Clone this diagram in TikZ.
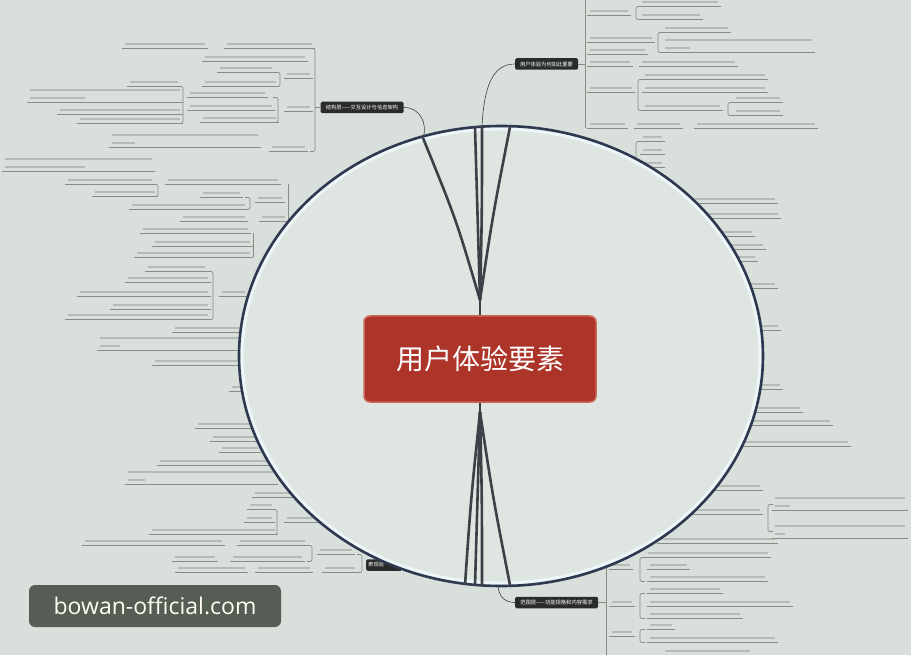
\documentclass[tikz,border=0pt]{standalone}
\usepackage{fontspec}
\newfontfamily\cjk{Noto Sans CJK SC}
\newfontfamily\webfont{Open Sans}
\usetikzlibrary{calc}
\definecolor{paper}{HTML}{D9E0DB}
\definecolor{inside}{HTML}{DFE5E1}
\definecolor{leafgray}{HTML}{868C86}
\definecolor{blurgray}{HTML}{B6BBB7}
\definecolor{spokegray}{HTML}{3C4047}
\definecolor{ringblue}{HTML}{2E3850}
\definecolor{branchdark}{HTML}{2A2B2B}
\definecolor{corered}{HTML}{AD3428}
\definecolor{coreedge}{HTML}{C9685A}
\definecolor{wmgreen}{HTML}{555D55}
\tikzset{
  leafline/.style={draw=leafgray, line width=0.7pt},
  leafblur/.style={fill=blurgray},
  spoke/.style={draw=spokegray, line width=2.6pt},
  thinlink/.style={draw=spokegray, line width=0.6pt},
  branch/.style={fill=branchdark, text=white, rounded corners=1.5pt, inner sep=2pt,
    minimum height=11.5pt, font=\cjk\fontsize{5.3}{6}\selectfont},
  core/.style={fill=corered, draw=coreedge, line width=1.5pt, rounded corners=6pt,
    minimum width=232pt, minimum height=86pt, text=white, font=\cjk\fontsize{28}{30}\selectfont},
  wmbox/.style={fill=wmgreen, rounded corners=6pt, minimum width=252pt, minimum height=42pt,
    text=white!95!yellow, font=\webfont\fontsize{23}{26}\selectfont}
}
\newcommand\leaf[3]{% x1, x2, y
  \fill [leafblur] (#1,#3-1.2) rectangle (#2,#3+1.2);
  \draw [leafline] (#1-3,#3+4.5) -- (#2+3,#3+4.5);
}
\newcommand\leaftwo[4]{% x1, x2, y, end of second line
  \fill [leafblur] (#1,#3-1.2) rectangle (#2,#3+1.2);
  \fill [leafblur] (#1,#3+6.8) rectangle (#4,#3+9.2);
  \draw [leafline] (#1-3,#3+12.5) -- (#2+3,#3+12.5);
}
\newcommand\bracketr[3]{% x, first child, last child
  \draw [leafline, rounded corners=2pt] (#1+5,#2+4.5) -- (#1,#2+4.5) -- (#1,#3+4.5) -- (#1+5,#3+4.5);
}
\newcommand\bracketl[3]{% x, first child, last child
  \draw [leafline, rounded corners=2pt] (#1-5,#2+4.5) -- (#1,#2+4.5) -- (#1,#3+4.5) -- (#1-5,#3+4.5);
}

\begin{document}
\begin{tikzpicture}[x=1pt,y=-1pt]
\fill [paper] (0,0) rectangle (911,655);
\useasboundingbox (0,0) rectangle (911,655);

% top right group
\draw [leafline] (585,0) -- (585,128.5);
\foreach \a/\b/\c in {590/628/11, 642/718/2, 642/700/15, 590/652/38, 665/728/28, 590/645/50,
  590/630/62, 642/735/62, 590/632/88, 645/765/75, 645/765/88, 645/720/106, 736/780/98,
  736/780/111, 590/625/124, 637/680/124, 697/815/124}
  {\leaf{\a}{\b}{\c}}
\leaftwo{665}{812}{40}{690}
\foreach \x/\p/\q in {636/2/15, 658/28/48, 638/75/106, 728/98/111}
  {\bracketr{\x}{\p}{\q}}

% top left group
\draw [leafline, rounded corners=2pt] (310,48.5) -- (315,48.5) -- (315,151.5) -- (310,151.5);
\foreach \a/\b/\c in {227/312/44, 125/205/44, 205/305/57, 287/310/74, 220/272/68, 205/276/82,
  287/310/107, 190/265/93, 190/272/106, 203/276/118, 130/178/82, 60/180/110, 80/180/119,
  272/305/147}
  {\leaf{\a}{\b}{\c}}
\leaftwo{30}{180}{90}{85}
\leaftwo{112}{258}{135}{135}
\foreach \x/\p/\q in {280/68/82, 278/93/118, 183/82/119}
  {\bracketl{\x}{\p}{\q}}

% left side
\leaftwo{5}{152}{159}{85}
\leaftwo{100}{240}{338}{120}
\leaftwo{128}{275}{472}{145}
\foreach \a/\b/\c in {68/152/180, 95/155/192, 168/278/180, 258/282/198, 203/240/193,
  132/245/205, 262/285/217, 183/245/217, 143/248/229, 155/250/242, 137/250/253,
  222/245/292, 148/205/267, 128/208/278, 80/208/292, 113/208/305, 68/208/315,
  175/240/328, 155/240/361, 232/242/387, 198/252/424, 213/255/437, 222/258/448,
  160/272/461, 255/290/493, 287/315/518, 250/272/505, 247/272/518, 152/275/530,
  320/352/550, 85/222/541, 240/305/541, 175/215/557, 233/302/557, 325/355/568,
  178/245/568, 258/310/568}
  {\leaf{\a}{\b}{\c}}
\foreach \x/\p/\q in {158/180/192, 250/193/205, 213/267/315, 277/505/530, 312/541/557,
  362/550/568}
  {\bracketl{\x}{\p}{\q}}
\draw [leafline] (288,184.5) -- (288,221.5);
\draw [leafline] (253,233.5) -- (253,257.5);

% right side
\foreach \a/\b/\c in {643/662/137, 643/662/150, 643/662/163, 695/775/199, 705/778/214,
  722/752/232, 728/763/245, 735/755/257, 745/775/284, 760/778/326, 758/780/385,
  758/800/408, 753/830/421, 740/848/442, 700/760/486, 690/760/510, 660/775/539,
  612/630/565, 648/768/553, 650/687/565, 650/765/577, 612/632/602, 650/720/589,
  650/790/602, 650/740/614, 612/632/632, 650/672/625, 650/775/638, 665/750/651}
  {\leaf{\a}{\b}{\c}}
\leaftwo{775}{905}{498}{790}
\leaftwo{775}{905}{526}{785}
\foreach \x/\p/\q in {636/137/163, 768/500/527, 640/553/577, 640/589/614, 640/625/638}
  {\bracketr{\x}{\p}{\q}}
\draw [leafline] (606,540) -- (606,655);

% branch boxes
\node [branch, minimum width=63pt] (sT) at (546.5,64) {用户体验为何如此重要};
\node [branch, minimum width=83pt] (sL) at (362,107.5) {结构层——交互设计与信息架构};
\node [branch, minimum width=83pt] (sR) at (556.5,602.5) {范围层——功能规格和内容需求};
\node [branch, anchor=west, text width=32pt, align=left] (sB) at (366,565) {表现层};
\draw [leafline] (sT.east) -- (585,64);
\draw [leafline] (sL.west) -- (315,107.5);
\draw [leafline] (sR.east) -- (606,602.5);

% the ring
\coordinate (O) at (501,356);
\fill [inside] (O) ellipse [x radius=262, y radius=230];
\draw [white!70!cyan!20!white, line width=3pt, opacity=0.8] (O) ellipse [x radius=259, y radius=227];
\draw [ringblue, line width=2.6pt] (O) ellipse [x radius=262, y radius=230];

% spokes
\coordinate (hubT) at (480,300);
\coordinate (hubB) at (480,412);
\coordinate (t1) at (423,138);
\coordinate (t2) at (475,127);
\coordinate (t3) at (482,126);
\coordinate (t4) at (510,127);
\coordinate (b1) at (465,585);
\coordinate (b2) at (475,586);
\coordinate (b3) at (482,586);
\coordinate (b4) at (510,585);
\coordinate (b5) at (498,587);
\draw [spoke] (hubT) .. controls (456,219) .. (t1);
\draw [spoke] (hubT) .. controls (477,213) .. (t2);
\draw [spoke] (hubT) .. controls (482,213) .. (t3);
\draw [spoke] (hubT) .. controls (493,214) .. (t4);
\draw [spoke] (hubB) .. controls (471,498) .. (b1);
\draw [spoke] (hubB) .. controls (477,499) .. (b2);
\draw [spoke] (hubB) .. controls (482,499) .. (b3);
\draw [spoke] (hubB) .. controls (493,498) .. (b4);

\node [core] (core) at (480,359) {用户体验要素};
\draw [spoke] (hubT) -- (core);
\draw [spoke] (hubB) -- (core);

\draw [thinlink] (sL.east) .. controls (420,107) and (428,124) .. (t1);
\draw [thinlink] (t3) .. controls (484,88) and (492,64) .. (sT.west);
\draw [thinlink] (b5) .. controls (500,598) and (505,602) .. (sR.west);

\node [wmbox] (wm) at (155,606) {bowan-official.com};
\end{tikzpicture}
\end{document}
